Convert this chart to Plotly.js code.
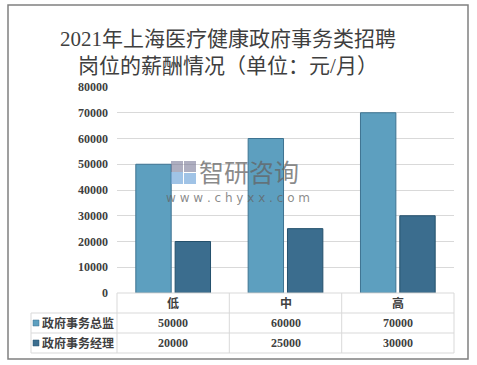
<!DOCTYPE html>
<html>
<head>
<meta charset="utf-8">
<script src="https://cdn.plot.ly/plotly-3.0.1.min.js"></script>
<style>html,body{margin:0;padding:0;background:#fff;}#chart{width:477px;height:365px;}</style>
</head>
<body>
<div id="chart"></div>
<script>
const categories = ['低', '中', '高'];
const seriesNames = ['政府事务总监', '政府事务经理'];
const directorValues = [50000, 60000, 70000];
const managerValues = [20000, 25000, 30000];
const yTickValues = [0, 10000, 20000, 30000, 40000, 50000, 60000, 70000, 80000];

const colors = ['#5d9fbf', '#3b6d8e'];
const lineColors = ['#3e7391', '#24506c'];

// layout geometry (pixels)
const W = 477, H = 365;
const L = 117, R = 454, T = 87, B = 293;
const pw = R - L, ph = B - T;
const px = x => (x - L) / pw;
const py = y => (B - y) / ph;

const serif = '"Liberation Serif", "Noto Sans CJK SC", serif';
const txtColor = '#404040';

const traces = [
  {type: 'bar', name: seriesNames[0], x: categories, y: directorValues,
   marker: {color: colors[0], line: {color: lineColors[0], width: 1}}, hoverinfo: 'none'},
  {type: 'bar', name: seriesNames[1], x: categories, y: managerValues,
   marker: {color: colors[1], line: {color: lineColors[1], width: 1}}, hoverinfo: 'none'}
];

const gridC = '#d9d9d9';
const shapes = [];
// outer border
shapes.push({type: 'rect', xref: 'paper', yref: 'paper', x0: px(8), x1: px(468), y0: py(359), y1: py(5),
  line: {color: '#808080', width: 1.5}});
// table horizontal lines
const rowYs = [293, 313, 333, 353];
rowYs.forEach((y, i) => {
  const x0 = (i === 0) ? L : 31;
  shapes.push({type: 'line', xref: 'paper', yref: 'paper', x0: px(x0), x1: px(R), y0: py(y), y1: py(y),
    line: {color: gridC, width: 1}});
});
// table vertical lines
const colXs = [117, 229.3, 341.7, 454];
colXs.forEach(x => {
  shapes.push({type: 'line', xref: 'paper', yref: 'paper', x0: px(x), x1: px(x), y0: py(293), y1: py(353),
    line: {color: gridC, width: 1}});
});
shapes.push({type: 'line', xref: 'paper', yref: 'paper', x0: px(31), x1: px(31), y0: py(313), y1: py(353),
  line: {color: gridC, width: 1}});
// legend keys
[323, 343].forEach((y, i) => {
  shapes.push({type: 'rect', xref: 'paper', yref: 'paper', x0: px(33), x1: px(39), y0: py(y + 3), y1: py(y - 3),
    fillcolor: colors[i], line: {color: lineColors[i], width: 0.5}});
});
// watermark logo blocks
shapes.push({type: 'rect', xref: 'paper', yref: 'paper', x0: px(171), x1: px(183), y0: py(184), y1: py(172),
  fillcolor: 'rgba(120,170,220,0.7)', line: {width: 0}});
shapes.push({type: 'rect', xref: 'paper', yref: 'paper', x0: px(184), x1: px(196), y0: py(172), y1: py(161),
  fillcolor: 'rgba(120,120,150,0.6)', line: {width: 0}});
shapes.push({type: 'rect', xref: 'paper', yref: 'paper', x0: px(184), x1: px(196), y0: py(184), y1: py(173),
  fillcolor: 'rgba(120,170,220,0.7)', line: {width: 0}});
shapes.push({type: 'rect', xref: 'paper', yref: 'paper', x0: px(171), x1: px(183), y0: py(172), y1: py(161),
  fillcolor: 'rgba(120,120,150,0.6)', line: {width: 0}});

const annotations = [];
// header category labels
categories.forEach(c => {
  annotations.push({xref: 'x', yref: 'paper', x: c, y: py(303), text: '<b>' + c + '</b>', showarrow: false,
    font: {family: serif, size: 12, color: txtColor}, xanchor: 'center', yanchor: 'middle'});
});
// value rows
[directorValues, managerValues].forEach((vals, r) => {
  const yy = py(rowYs[r + 1] + 10);
  vals.forEach((v, i) => {
    annotations.push({xref: 'x', yref: 'paper', x: categories[i], y: yy, text: '<b>' + v + '</b>', showarrow: false,
      font: {family: serif, size: 12, color: txtColor}, xanchor: 'center', yanchor: 'middle'});
  });
  annotations.push({xref: 'paper', yref: 'paper', x: px(40), y: yy, text: '<b>' + seriesNames[r] + '</b>', showarrow: false,
    font: {family: serif, size: 12, color: txtColor}, xanchor: 'left', yanchor: 'middle'});
});
// watermark
annotations.push({xref: 'paper', yref: 'paper', x: px(197), y: py(171), text: '智研咨询', showarrow: false,
  font: {family: '"Noto Sans CJK SC", sans-serif', size: 25, color: 'rgba(100,100,100,0.75)'}, xanchor: 'left', yanchor: 'middle'});
annotations.push({xref: 'paper', yref: 'paper', x: px(238), y: py(198), text: 'w w w . c h y x x . c o m', showarrow: false,
  font: {family: '"DejaVu Sans", sans-serif', size: 12, color: 'rgba(100,100,100,0.75)'}, xanchor: 'center', yanchor: 'middle'});

const layout = {
  width: W, height: H,
  margin: {l: L, r: W - R, t: T, b: H - B, pad: 0},
  paper_bgcolor: '#ffffff', plot_bgcolor: '#ffffff',
  showlegend: false,
  barmode: 'group', bargap: 0.3, bargroupgap: 0.1,
  title: {text: '2021年上海医疗健康政府事务类招聘<br>岗位的薪酬情况（单位：元/月）',
    x: 0.478, xanchor: 'center', y: 1 - 46 / H, yanchor: 'middle',
    font: {family: '"Liberation Serif", "Noto Sans CJK SC", serif', size: 21, color: '#3f3f3f'}},
  xaxis: {type: 'category', showticklabels: false, showgrid: false, zeroline: false, showline: false, ticks: '',
    fixedrange: true},
  yaxis: {range: [0, 80000], tickvals: yTickValues, ticktext: yTickValues.map(v => '<b>' + v + '</b>'),
    showgrid: true, gridcolor: gridC, gridwidth: 1, zeroline: false, showline: false, ticks: '',
    ticklabelstandoff: 8,
    tickfont: {family: serif, size: 12, color: txtColor}, fixedrange: true},
  shapes: shapes,
  annotations: annotations
};

Plotly.newPlot('chart', traces, layout, {displayModeBar: false, staticPlot: true});
</script>
</body>
</html>
